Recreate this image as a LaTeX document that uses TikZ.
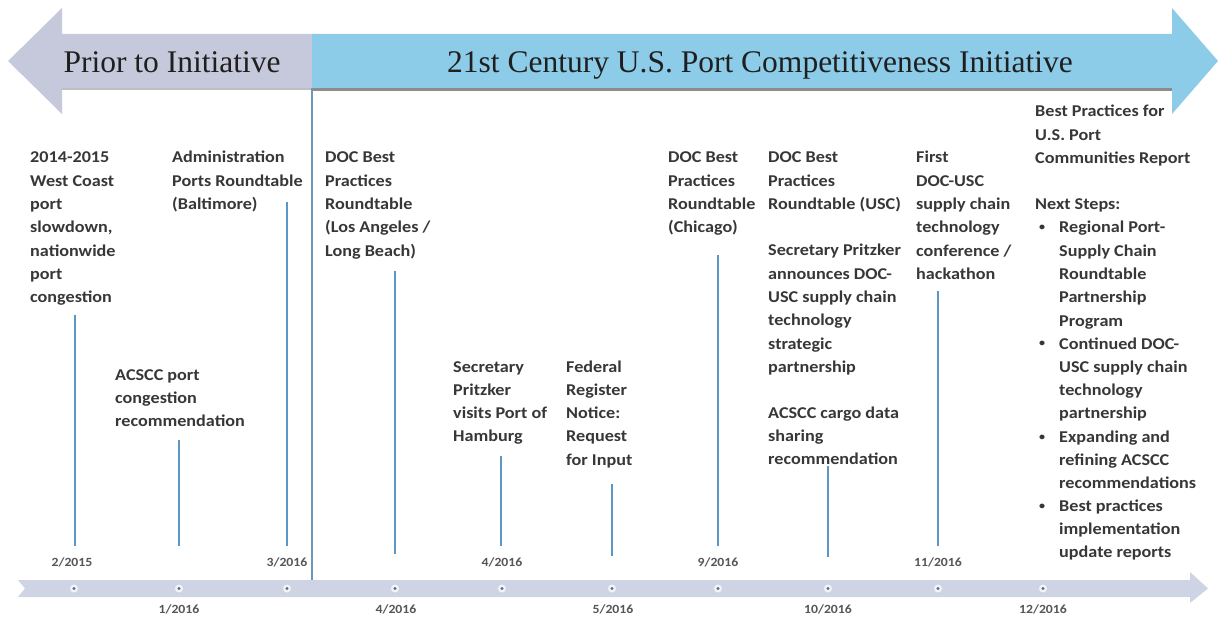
\documentclass[tikz,border=0pt]{standalone}
\usepackage{fontspec}
\setmainfont{Carlito}[FakeStretch=1.1]
\newfontfamily\headfont{Liberation Serif}
\definecolor{priorgray}{RGB}{197,201,219}
\definecolor{initblue}{RGB}{141,204,233}
\definecolor{barfill}{RGB}{206,212,228}
\definecolor{stemc}{RGB}{92,150,194}
\definecolor{dividerc}{RGB}{110,150,182}
\definecolor{txt}{RGB}{55,55,55}
\definecolor{datec}{RGB}{85,85,90}
\definecolor{dotc}{RGB}{95,105,125}
\newcommand\txtblock[1]{\begin{tabular}[t]{@{}l@{}}#1\end{tabular}}
\newcommand\lblfont{\fontsize{16.5}{23.3}\selectfont\bfseries}
\newcommand\datefont{\fontsize{12.5}{14}\selectfont\bfseries}
\begin{document}
\begin{tikzpicture}[x=1pt,y=-1pt,
  lbl/.style={anchor=base west, inner sep=0pt, font=\lblfont, text=txt},
  bullet/.style={anchor=base west, inner sep=0pt, font=\fontsize{11}{12}\selectfont\bfseries, text=txt},
  datelbl/.style={anchor=center, inner sep=0pt, font=\datefont, text=datec},
  stem/.style={draw=stemc, line width=2pt},
  tick/.style={circle, inner sep=0pt, minimum size=8pt, fill=white!75!barfill},
  title/.style={anchor=base, inner sep=0pt, font=\headfont\fontsize{31.5}{34}\selectfont, text=black!88}]
\useasboundingbox (0,0) rectangle (1220,617);

% ---- top phase arrows ----
\fill[priorgray] (8,61) -- (62,8) -- (62,34) -- (314,34) -- (314,88) -- (62,88) -- (62,114) -- cycle;
\fill[initblue] (312,34) -- (1172,34) -- (1172,8) -- (1218,61) -- (1172,114) -- (1172,88) -- (312,88) -- cycle;
\draw[black!25, line width=1.5pt] (62,89) -- (312,89);
\draw[black!45, line width=2.5pt] (312,89.5) -- (1172,89.5);
\node[title] (prior) at (172,73) {Prior to Initiative};
\node[title] (init) at (760,73) {21st Century U.S. Port Competitiveness Initiative};

% ---- divider between the two phases ----
\coordinate (divtop) at (312,88);
\coordinate (divbot) at (312,592);
\draw[dividerc, line width=1.5pt] (divtop) -- (divbot);

% ---- timeline bar ----
\fill[barfill] (18,580) -- (1190,580) -- (1190,572) -- (1208,588.5) -- (1190,603) -- (1190,597) -- (18,597) -- (25,588.5) -- cycle;

% ---- ticks on the bar ----
\foreach \n/\x in {1/74,2/179,3/287,4/395,5/502,6/612,7/718,8/828,9/938,10/1043}{
  \node[tick] (d\n) at (\x,588.5) {};
  \fill[dotc] (d\n) circle (1.6);
}

% ---- dates ----
\node[datelbl] (t1) at (72,562) {2/2015};
\node[datelbl] (t3) at (287,562) {3/2016};
\node[datelbl] (t5) at (502,562) {4/2016};
\node[datelbl] (t7) at (718,562) {9/2016};
\node[datelbl] (t9) at (938,562) {11/2016};
\node[datelbl] (t2) at (179,609) {1/2016};
\node[datelbl] (t4) at (396,609) {4/2016};
\node[datelbl] (t6) at (613,609) {5/2016};
\node[datelbl] (t8) at (828,609) {10/2016};
\node[datelbl] (t10) at (1043,609) {12/2016};

% ---- event texts ----
\node[lbl] (slowdown) at (30,163) {\txtblock{2014-2015\\West Coast\\port\\slowdown,\\nationwide\\port\\congestion}};
\node[lbl] (baltimore) at (172,163) {\txtblock{Administration\\Ports Roundtable\\(Baltimore)}};
\node[lbl] (losangeles) at (325,163) {\txtblock{DOC Best\\Practices\\Roundtable\\(Los Angeles /\\Long Beach)}};
\node[lbl] (acsccport) at (115,380) {\txtblock{ACSCC port\\congestion\\recommendation}};
\node[lbl] (hamburg) at (453,372) {\txtblock{Secretary\\Pritzker\\visits Port of\\Hamburg}};
\node[lbl] (fedreg) at (566,372) {\txtblock{Federal\\Register\\Notice:\\Request\\for Input}};
\node[lbl] (chicago) at (668,163) {\txtblock{DOC Best\\Practices\\Roundtable\\(Chicago)}};
\node[lbl] (usc) at (768,163) {\txtblock{DOC Best\\Practices\\Roundtable (USC)}};
\node[lbl] (announce) at (768,256) {\txtblock{Secretary Pritzker\\announces DOC-\\USC supply chain\\technology\\strategic\\partnership}};
\node[lbl] (cargo) at (768,418) {\txtblock{ACSCC cargo data\\sharing\\recommendation}};
\node[lbl] (hackathon) at (916,163) {\txtblock{First\\DOC-USC\\supply chain\\technology\\conference /\\hackathon}};
\node[lbl] (report) at (1035,117) {\txtblock{Best Practices for\\U.S. Port\\Communities Report}};
\node[lbl] (next) at (1035,210) {Next Steps:};
\node[bullet] (b1) at (1039,231) {•};
\node[lbl] (n1) at (1059,233) {\txtblock{Regional Port-\\Supply Chain\\Roundtable\\Partnership\\Program}};
\node[bullet] (b2) at (1039,347) {•};
\node[lbl] (n2) at (1059,349) {\txtblock{Continued DOC-\\USC supply chain\\technology\\partnership}};
\node[bullet] (b3) at (1039,440) {•};
\node[lbl] (n3) at (1059,442) {\txtblock{Expanding and\\refining ACSCC\\recommendations}};
\node[bullet] (b4) at (1039,509) {•};
\node[lbl] (n4) at (1059,511) {\txtblock{Best practices\\implementation\\update reports}};

% ---- stems from the texts down to the dates ----
\foreach \n/\x/\ya/\yb in {1/75/315/546, 2/179/440/546, 3/287/202/546, 4/395/271/554,
                           5/501/456/546, 6/612/484/556, 7/718/255/546, 8/828/466/557, 9/938/291/546}{
  \coordinate (s\n a) at (\x,\ya);
  \coordinate (s\n b) at (\x,\yb);
  \draw[stem] (s\n a) -- (s\n b);
}
\end{tikzpicture}
\end{document}
